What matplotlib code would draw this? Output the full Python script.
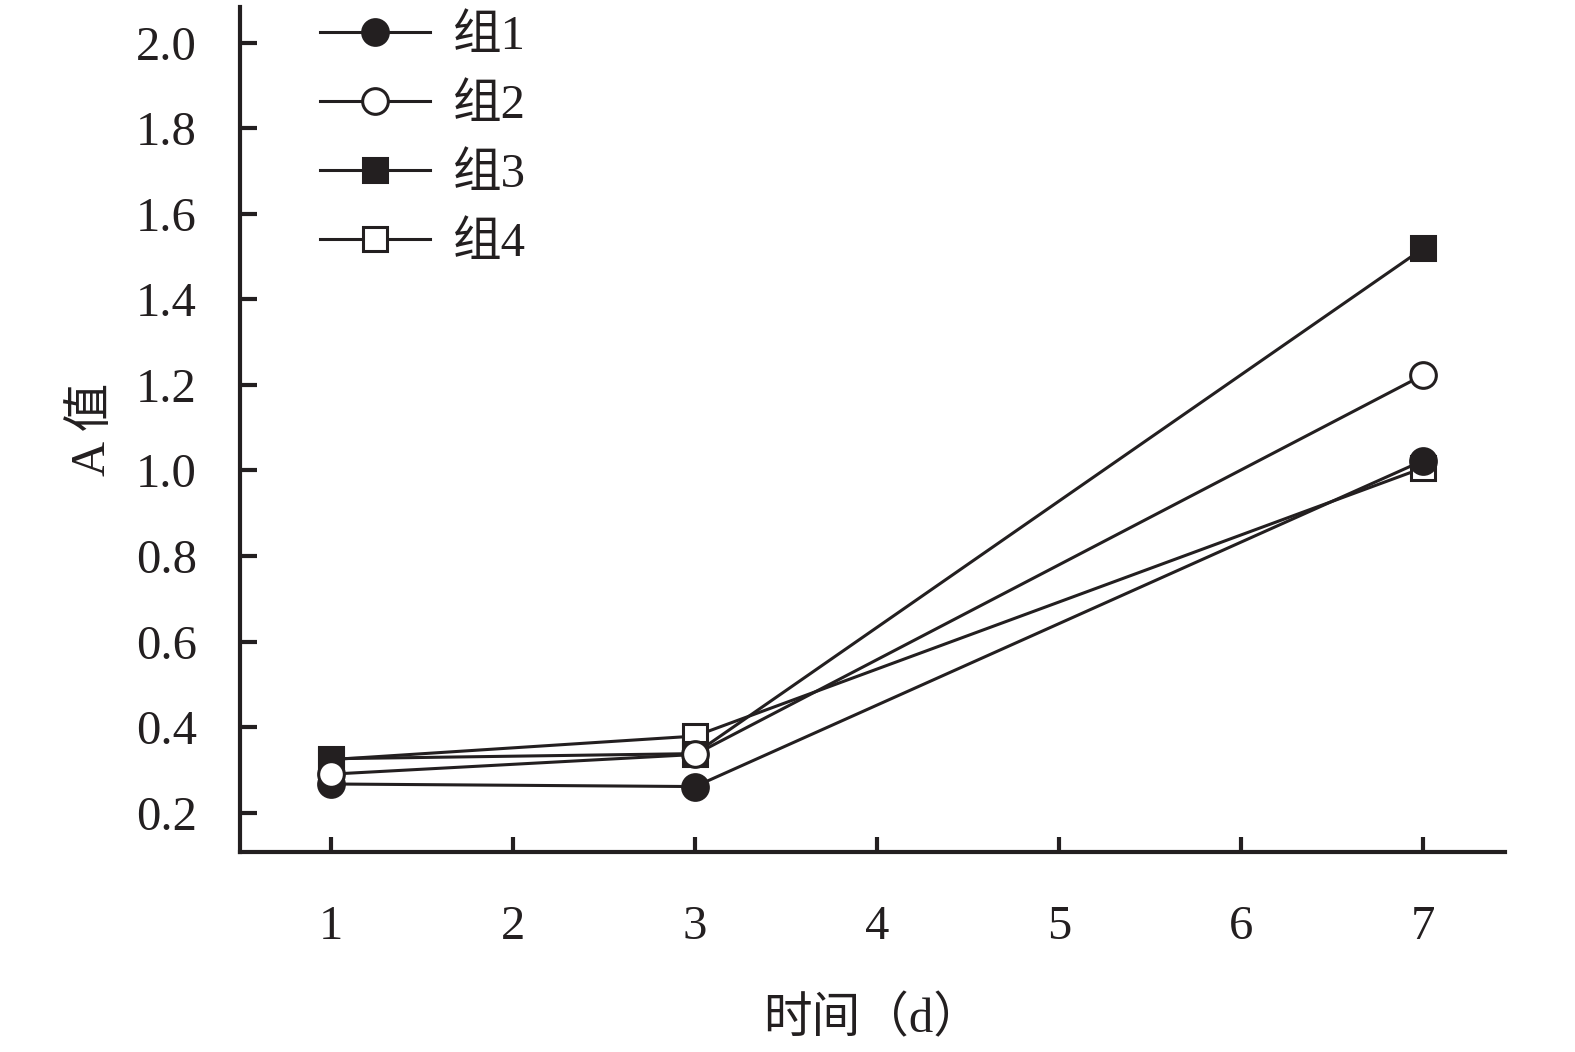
import matplotlib
matplotlib.use("Agg")
import matplotlib.pyplot as plt

plt.rcParams['font.family'] = ['Liberation Serif', 'Noto Sans CJK SC', 'DejaVu Sans']

days = [1, 3, 7]
group_labels = ["组1", "组2", "组3", "组4"]
g1 = [0.267, 0.261, 1.023]
g2 = [0.290, 0.336, 1.223]
g3 = [0.326, 0.338, 1.519]
g4 = [0.324, 0.379, 1.006]
xticks = [1, 2, 3, 4, 5, 6, 7]
yticks = [0.2, 0.4, 0.6, 0.8, 1.0, 1.2, 1.4, 1.6, 1.8, 2.0]

fig = plt.figure(figsize=(15.75, 10.52), dpi=100)
ax = fig.add_axes([240/1575, 1-852/1052, (1505-240)/1575, (852-7)/1052])

c = "#231f20"
ms = 18.5
mew = 2.2
lw = 2.2
styles = {
    0: dict(marker='o', mfc=c, z=4),
    1: dict(marker='o', mfc='white', z=5),
    2: dict(marker='s', mfc=c, z=3),
    3: dict(marker='s', mfc='white', z=2),
}
series = [g1, g2, g3, g4]
handles = []
for i, (vals, lab) in enumerate(zip(series, group_labels)):
    st = styles[i]
    h, = ax.plot(days, vals, color=c, lw=lw, marker=st['marker'], ms=ms if st['marker']=='o' else ms*0.95,
                 mfc=st['mfc'], mec=c, mew=mew, label=lab, zorder=st['z'], clip_on=False)
    handles.append(h)

ax.set_xlim(0.5, 7.45)
ax.set_ylim(0.108, 2.0835)
ax.set_xticks(xticks)
ax.set_xticklabels([str(t) for t in xticks])
ax.set_yticks(yticks)
ax.set_yticklabels([f"{t:.1f}" for t in yticks])

for s in ['top', 'right']:
    ax.spines[s].set_visible(False)
for s in ['left', 'bottom']:
    ax.spines[s].set_linewidth(3)
    ax.spines[s].set_color(c)

ax.tick_params(axis='x', direction='in', length=11, width=3, color=c, labelsize=35, pad=38, labelcolor=c)
ax.tick_params(axis='y', direction='in', length=12, width=3, color=c, labelsize=35, pad=31, labelcolor=c)

ax.set_xlabel("时间（d）", fontsize=35, color=c, labelpad=34)
ax.set_ylabel("A 值", fontsize=35, color=c, labelpad=15)

leg = ax.legend(handles=handles, labels=group_labels, loc='upper left',
                bbox_to_anchor=(0.048, 1.013), frameon=False, fontsize=35,
                handlelength=2.25, handletextpad=0.48, labelspacing=0.51,
                borderaxespad=0)
for t in leg.get_texts():
    t.set_color(c)

fig.savefig("out.png", dpi=100, facecolor='white')
